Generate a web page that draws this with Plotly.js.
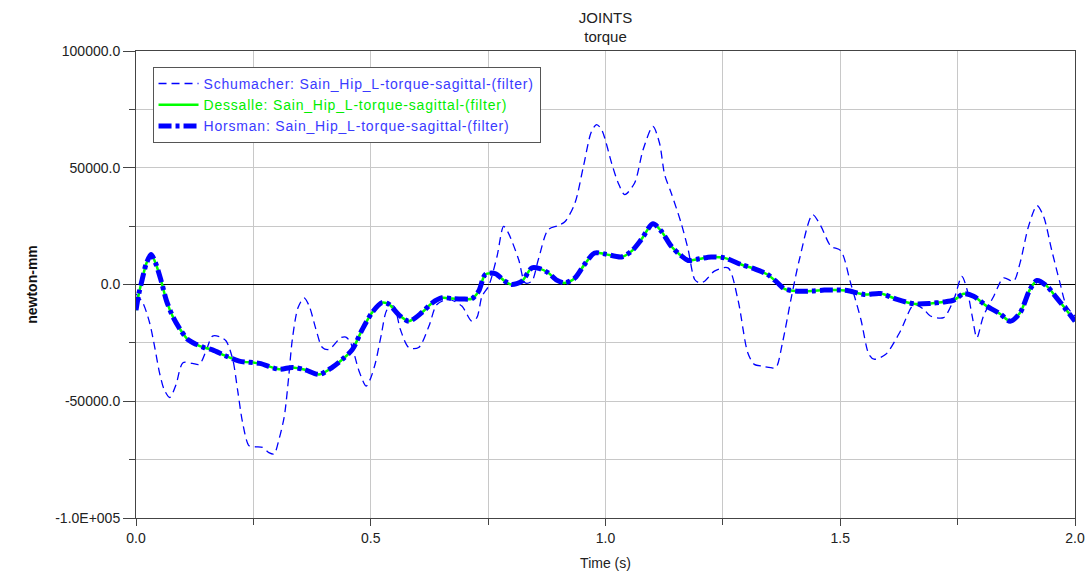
<!DOCTYPE html>
<html>
<head>
<meta charset="utf-8">
<script src="https://cdn.plot.ly/plotly-3.0.1.min.js"></script>
<style>html,body{margin:0;padding:0;background:#fff;}#chart{width:1089px;height:571px;}</style>
</head>
<body>
<div id="chart"></div>
<script>
// Time (s)
const schumacherT = [0.000,0.004,0.015,0.029,0.040,0.050,0.060,0.072,0.085,0.100,0.120,0.135,0.150,0.163,0.180,0.192,0.206,0.217,0.227,0.241,0.255,0.270,0.283,0.294,0.305,0.316,0.325,0.333,0.345,0.358,0.369,0.383,0.397,0.411,0.436,0.447,0.457,0.475,0.490,0.500,0.510,0.522,0.535,0.549,0.563,0.581,0.602,0.624,0.641,0.666,0.694,0.715,0.726,0.737,0.751,0.769,0.783,0.793,0.815,0.829,0.843,0.857,0.878,0.899,0.914,0.935,0.953,0.970,0.981,0.992,1.013,1.027,1.041,1.062,1.080,1.101,1.115,1.126,1.140,1.161,1.176,1.190,1.200,1.211,1.232,1.261,1.282,1.303,1.317,1.335,1.352,1.363,1.377,1.395,1.413,1.441,1.459,1.480,1.501,1.522,1.544,1.561,1.572,1.597,1.628,1.657,1.678,1.692,1.720,1.742,1.759,1.770,1.781,1.791,1.805,1.827,1.848,1.869,1.883,1.901,1.919,1.933,1.950,1.968,1.982,2.000];
// Torque (newton-mm)
const schumacherV = [-4000,-5000,-8000,-16400,-27000,-37700,-45000,-48400,-43000,-33500,-33800,-34200,-28000,-22100,-22500,-24200,-32000,-46000,-59100,-69100,-69500,-69800,-72000,-72600,-66000,-56300,-40000,-23500,-10000,-5700,-9250,-19000,-27000,-27800,-22800,-22500,-24900,-37000,-43500,-40000,-33500,-22000,-10700,-9250,-19200,-27000,-27000,-17800,-8550,-6400,-9250,-15700,-14200,-5000,-700,12100,24900,22100,10700,700,1400,10700,23500,25200,27000,34900,50600,65500,68500,66200,52000,43500,38500,43500,57700,67700,60600,47000,39200,26400,15000,2140,700,1400,5700,7100,-6400,-29200,-34200,-35000,-35600,-35600,-24900,-6400,10700,29900,24900,16400,14500,700,-15000,-29900,-32000,-29900,-20000,-8550,-10700,-13500,-14200,-6400,3500,-2140,-13500,-22800,-13500,-5000,2850,1400,9250,24900,33800,29200,15000,700,-9250,-13500];

const hipT = [0.000,0.006,0.013,0.022,0.032,0.042,0.053,0.065,0.079,0.095,0.110,0.128,0.145,0.163,0.190,0.220,0.263,0.305,0.333,0.360,0.390,0.418,0.440,0.461,0.482,0.503,0.524,0.539,0.560,0.581,0.609,0.630,0.652,0.673,0.695,0.715,0.730,0.744,0.765,0.785,0.800,0.822,0.843,0.860,0.878,0.895,0.914,0.935,0.955,0.977,1.000,1.034,1.055,1.076,1.101,1.119,1.140,1.160,1.176,1.200,1.225,1.253,1.289,1.320,1.345,1.365,1.381,1.409,1.440,1.466,1.500,1.515,1.551,1.586,1.621,1.657,1.692,1.720,1.742,1.763,1.784,1.812,1.840,1.862,1.883,1.904,1.919,1.940,1.960,1.975,2.000];
const hipV = [-11000,-4000,2000,9000,12800,9000,2000,-7000,-14000,-19500,-23500,-25600,-27000,-28000,-30500,-32800,-33800,-36300,-35500,-36500,-38500,-35500,-32000,-27800,-19200,-12000,-7800,-8500,-13000,-15700,-12000,-8000,-5700,-6000,-6200,-6100,-2800,4300,4700,1500,0,1400,7100,6800,5000,2000,700,2800,8500,13500,13000,11800,14200,19200,26000,22800,16400,12500,10300,11000,11800,11400,8550,6500,4300,1000,-1850,-2850,-2800,-2400,-2400,-2560,-4270,-3850,-6400,-8250,-8100,-7500,-6700,-4000,-5000,-9250,-12500,-15700,-12100,-2140,1700,-700,-5500,-9250,-15700];
// Dessalle and Horsman curves coincide in the reference
const dessalleV = hipV.slice();
const horsmanV = hipV.slice();

const seriesNames = [
  'Schumacher: Sain_Hip_L-torque-sagittal-(filter)',
  'Dessalle: Sain_Hip_L-torque-sagittal-(filter)',
  'Horsman: Sain_Hip_L-torque-sagittal-(filter)'
];
const yTickVals = [100000, 50000, 0, -50000, -100000];
const yTickText = ['100000.0', '50000.0', '0.0', '-50000.0', '-1.0E+005'];
const xTickVals = [0, 0.5, 1.0, 1.5, 2.0];
const xTickText = ['0.0', '0.5', '1.0', '1.5', '2.0'];

function legendName(name, color) {
  return '<span style="color:' + color + ';letter-spacing:0.8px">' + name + '</span>';
}

const traces = [
  {x: schumacherT, y: schumacherV, type: 'scatter', mode: 'lines',
   name: legendName(seriesNames[0], '#3a3aff'),
   line: {color: '#0000ff', width: 1.3, dash: '8px,5px', shape: 'spline', smoothing: 0.8}},
  {x: hipT, y: dessalleV, type: 'scatter', mode: 'lines',
   name: legendName(seriesNames[1], '#00ee00'),
   line: {color: '#00ff00', width: 2.5, shape: 'spline', smoothing: 0.8}},
  {x: hipT, y: horsmanV, type: 'scatter', mode: 'lines',
   name: legendName(seriesNames[2], '#3a3aff'),
   line: {color: '#0000ff', width: 5, dash: '13px,4px,4px,4px', shape: 'spline', smoothing: 0.8}}
];

const gridColor = '#c8c8c8';
const layout = {
  width: 1089, height: 571,
  margin: {l: 135.5, r: 13.5, t: 50.5, b: 52.5},
  paper_bgcolor: '#ffffff', plot_bgcolor: '#ffffff',
  font: {family: 'Liberation Sans, Arial, sans-serif', size: 14, color: '#222'},
  title: {text: 'JOINTS<br>torque', x: 0.5, xref: 'paper', xanchor: 'center',
          y: 0.96, yref: 'container', yanchor: 'top',
          font: {size: 15, color: '#222'}},
  showlegend: true,
  legend: {x: 0.0176, y: 0.966, xanchor: 'left', yanchor: 'top',
           bgcolor: '#ffffff', bordercolor: '#555', borderwidth: 1,
           font: {size: 14, color: '#3a3aff'}, tracegroupgap: 0,
           itemwidth: 40},
  xaxis: {range: [0, 2], tickmode: 'array', tickvals: xTickVals, ticktext: xTickText,
          showgrid: true, gridcolor: gridColor, gridwidth: 1,
          showline: true, linecolor: '#444', linewidth: 1, mirror: true,
          ticks: 'outside', ticklen: 7, tickcolor: '#444',
          minor: {tickmode: 'linear', tick0: 0, dtick: 0.25, ticks: 'outside', ticklen: 6,
                  tickcolor: '#444', showgrid: true, gridcolor: gridColor, gridwidth: 1},
          zeroline: false,
          tickfont: {size: 14, color: '#222'},
          title: {text: 'Time (s)', font: {size: 14, color: '#222'}, standoff: 13}},
  yaxis: {range: [-100000, 100000], tickmode: 'array', tickvals: yTickVals, ticktext: yTickText,
          showgrid: true, gridcolor: gridColor, gridwidth: 1,
          showline: true, linecolor: '#444', linewidth: 1, mirror: true,
          ticks: 'outside', ticklen: 12, tickcolor: '#444',
          minor: {tickmode: 'linear', tick0: 0, dtick: 25000, ticks: 'outside', ticklen: 6,
                  tickcolor: '#444', showgrid: true, gridcolor: gridColor, gridwidth: 1},
          zeroline: true, zerolinecolor: '#000000', zerolinewidth: 1,
          tickfont: {size: 14, color: '#222'},
          title: {text: '<b>newton-mm</b>', font: {size: 14, color: '#111'}, standoff: 14}}
};

Plotly.newPlot('chart', traces, layout, {displayModeBar: false, staticPlot: true});
</script>
</body>
</html>
